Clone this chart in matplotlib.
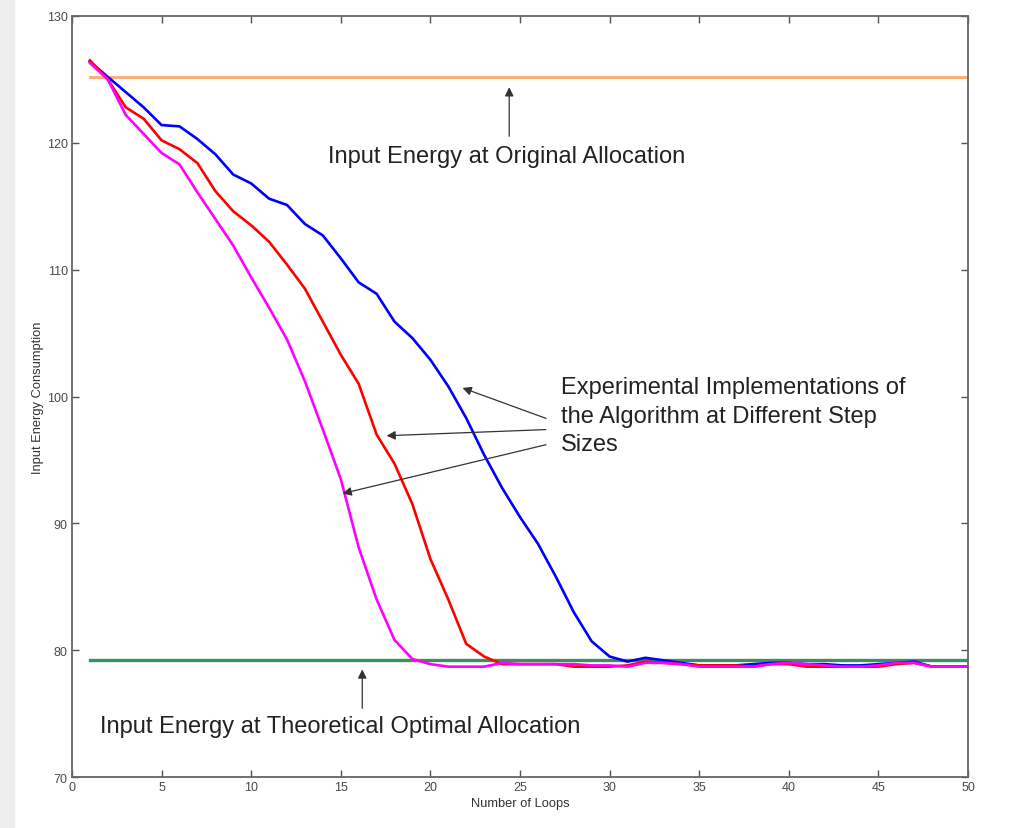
import numpy as np
import matplotlib
matplotlib.use("Agg")
import matplotlib.pyplot as plt
from matplotlib.patches import Rectangle

plt.rcParams['font.family'] = ['Liberation Sans', 'DejaVu Sans']

loops = list(range(1, 51))

blue = [126.4, 125.2, 124.0, 122.8, 121.4, 121.3, 120.3, 119.1, 117.5, 116.8,
        115.6, 115.1, 113.6, 112.7, 110.9, 109.0, 108.1, 105.9, 104.6, 102.9,
        100.8, 98.3, 95.4, 92.8, 90.5, 88.4, 85.8, 83.0, 80.7, 79.5,
        79.1, 79.4, 79.2, 79.0, 78.8, 78.8, 78.8, 78.9, 79.0, 79.0,
        78.9, 78.9, 78.8, 78.8, 78.9, 79.0, 79.1, 78.7, 78.7, 78.7]

red = [126.5, 125.0, 122.8, 121.9, 120.2, 119.5, 118.4, 116.2, 114.6, 113.5,
       112.2, 110.4, 108.5, 105.9, 103.3, 101.0, 97.0, 94.7, 91.5, 87.2,
       84.0, 80.5, 79.5, 78.9, 78.9, 78.9, 78.9, 78.7, 78.7, 78.7,
       78.8, 79.1, 79.0, 78.9, 78.8, 78.8, 78.8, 78.7, 78.9, 78.9,
       78.7, 78.7, 78.7, 78.7, 78.7, 78.9, 79.0, 78.7, 78.7, 78.7]

magenta = [126.3, 125.0, 122.2, 120.7, 119.2, 118.3, 116.1, 114.0, 111.9, 109.4,
           107.0, 104.5, 101.2, 97.4, 93.5, 88.1, 84.0, 80.8, 79.3, 78.9,
           78.7, 78.7, 78.7, 79.0, 78.9, 78.9, 78.9, 78.9, 78.8, 78.8,
           78.7, 79.0, 79.0, 78.9, 78.7, 78.7, 78.7, 78.7, 78.9, 79.0,
           78.9, 78.8, 78.7, 78.7, 78.8, 79.0, 79.0, 78.7, 78.7, 78.7]

original_level = 125.2
optimal_level = 79.2

fig = plt.figure(figsize=(10.12, 8.29), dpi=100)
fig.patches.append(Rectangle((0, 0), 0.014, 1, transform=fig.transFigure,
                             color='#ededed', zorder=0))
ax = fig.add_axes([0.0711, 0.0615, 0.8854, 0.918])

ax.plot([1, 50], [original_level, original_level], color='#ffaa6a', lw=2.0)
ax.plot([1, 50], [optimal_level, optimal_level], color='#3d8f63', lw=2.4)
ax.plot(loops, blue, color='#0000ff', lw=1.9)
ax.plot(loops, red, color='#ff0000', lw=1.9)
ax.plot(loops, magenta, color='#ff00ff', lw=1.9)

ax.set_xlim(0, 50)
ax.set_ylim(70, 130)
ax.set_xticks(range(0, 51, 5))
ax.set_yticks(range(70, 131, 10))
ax.tick_params(direction='in', top=True, right=True, length=5, width=1,
               colors='#555555', labelsize=9, labelcolor='#4a4a4a', pad=3)
for s in ax.spines.values():
    s.set_color('#666666')
    s.set_linewidth(1.3)
ax.set_xlabel('Number of Loops', fontsize=9.3, color='#333333', labelpad=3)
ax.set_ylabel('Input Energy Consumption', fontsize=9.3, color='#333333', labelpad=2)

arrow = dict(arrowstyle='-|>', color='#333333', lw=0.9, mutation_scale=13)
txt = dict(fontsize=17, color='#222222')

ax.text(14.3, 119.0, 'Input Energy at Original Allocation', va='center', **txt)
ax.annotate('', xy=(24.4, 124.6), xytext=(24.4, 120.3), arrowprops=arrow)

ax.text(1.56, 74.0, 'Input Energy at Theoretical Optimal Allocation', va='center', **txt)
ax.annotate('', xy=(16.2, 78.7), xytext=(16.2, 75.2), arrowprops=arrow)

ax.text(27.3, 98.5, 'Experimental Implementations of\nthe Algorithm at Different Step\nSizes',
        va='center', linespacing=1.4, **txt)
ax.annotate('', xy=(21.65, 100.75), xytext=(26.6, 98.2), arrowprops=arrow)
ax.annotate('', xy=(17.4, 96.9), xytext=(26.6, 97.4), arrowprops=arrow)
ax.annotate('', xy=(14.95, 92.3), xytext=(26.6, 96.25), arrowprops=arrow)

fig.savefig('out.png', dpi=100)
